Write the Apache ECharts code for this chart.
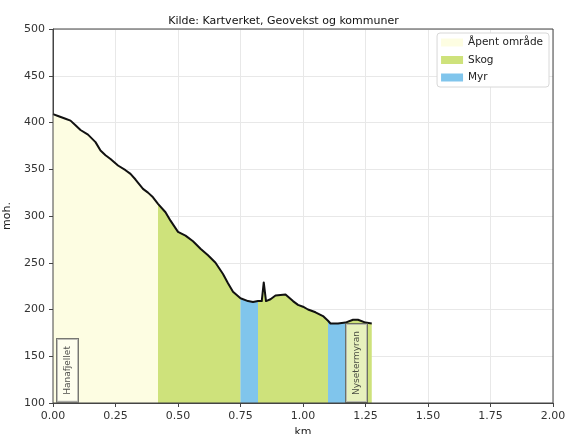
<!DOCTYPE html>
<html>
<head>
<meta charset="utf-8">
<script src="https://cdn.jsdelivr.net/npm/echarts@6/dist/echarts.min.js"></script>
<style>
html,body{margin:0;padding:0;background:#fff;}
#chart{width:567px;height:434px;}
</style>
</head>
<body>
<div id="chart"></div>
<script>
// Elevation profile (km, metres above sea level)
var profileKm = [0.00,0.02,0.05,0.07,0.09,0.11,0.14,0.17,0.19,0.21,0.23,0.26,0.29,0.31,0.33,0.36,0.38,0.40,0.42,0.45,0.47,0.50,0.53,0.56,0.59,0.62,0.65,0.68,0.70,0.72,0.75,0.78,0.80,0.82,0.835,0.843,0.852,0.87,0.89,0.93,0.96,0.98,1.00,1.02,1.05,1.08,1.10,1.11,1.14,1.17,1.20,1.22,1.25,1.275];
var profileElev = [409,407,404,402,397,392,387,379,370,365,361,354,349,345,339,329,325,320,313,304,295,283,279,273,265,258,250,238,228,219,212,209,208,209,209,229,209,211,215,216,209,205,203,200,197,193,188,185,185,186,189,189,186,185];

// Land-cover segments along the profile
var segStart = [0.00, 0.42, 0.75, 0.82, 1.10, 1.17];
var segEnd   = [0.42, 0.75, 0.82, 1.10, 1.17, 1.275];
var segType  = ['Åpent område','Skog','Myr','Skog','Myr','Skog'];

var coverTypes  = ['Åpent område','Skog','Myr'];
var coverColors = ['#fdfde2','#cee27b','#80c5ec'];

// Place-name annotations
var placeNames = ['Hanafjellet','Nysetermyran'];
var placeKm    = [0.058, 1.214];
var placeElev  = [134.8, 142.8];

var xTicks = {min:0, max:2, interval:0.25};
var yTicks = {min:100, max:500, interval:50};

var chart = echarts.init(document.getElementById('chart'), null, {renderer:'canvas'});

var series = [];
for (var s = 0; s < segType.length; s++) {
  var pts = [];
  for (var i = 0; i < profileKm.length; i++) {
    if (profileKm[i] >= segStart[s] - 1e-9 && profileKm[i] <= segEnd[s] + 1e-9) {
      pts.push([profileKm[i], profileElev[i]]);
    }
  }
  var c = coverColors[coverTypes.indexOf(segType[s])];
  series.push({
    type:'line', name:segType[s], data:pts, showSymbol:false, symbol:'none',
    silent:true, animation:false,
    itemStyle:{color:c},
    lineStyle:{width:0, color:c},
    areaStyle:{color:c, opacity:1, origin:'start'},
    z:1
  });
}
var line = [];
for (var j = 0; j < profileKm.length; j++) line.push([profileKm[j], profileElev[j]]);
series.push({
  type:'line', name:'profil', data:line, showSymbol:false, symbol:'none',
  animation:false, lineStyle:{color:'#111', width:2, join:'round'}, z:5
});
var places = [];
for (var k = 0; k < placeNames.length; k++) places.push({name:placeNames[k], value:[placeKm[k], placeElev[k]]});
series.push({
  type:'scatter', name:'steder', data:places, symbolSize:0, animation:false, z:6,
  label:{
    show:true, position:'inside', rotate:90,
    formatter:function(p){return p.name;},
    fontFamily:'DejaVu Sans', fontSize:9, color:'#222',
    backgroundColor:'rgba(255,255,250,0.65)', borderColor:'#555', borderWidth:1,
    padding:[6,7]
  }
});

chart.setOption({
  animation:false,
  backgroundColor:'#fff',
  textStyle:{fontFamily:'DejaVu Sans'},
  title:{
    text:'Kilde: Kartverket, Geovekst og kommuner', left:'center', top:11,
    textStyle:{fontSize:11, fontWeight:'normal', color:'#111', fontFamily:'DejaVu Sans'}
  },
  legend:{
    data:coverTypes, orient:'vertical', right:18, top:33,
    icon:'rect', itemWidth:22, itemHeight:8, itemGap:6.5,
    backgroundColor:'#fff', borderColor:'#d8d8d8', borderWidth:1, borderRadius:3,
    padding:[4,6,4,4],
    textStyle:{fontSize:10.5, color:'#222', fontFamily:'DejaVu Sans'},
    selectedMode:false
  },
  grid:{left:53, right:14, top:29, bottom:31, outerBoundsMode:'none', containLabel:false,
        show:true, borderColor:'#444', borderWidth:1, z:10},
  xAxis:{
    type:'value', min:xTicks.min, max:xTicks.max, interval:xTicks.interval,
    name:'km', nameLocation:'middle', nameGap:20,
    nameTextStyle:{fontSize:11, color:'#222'},
    axisLine:{show:true, onZero:false, lineStyle:{color:'#444'}},
    axisTick:{show:true, length:4, lineStyle:{color:'#444'}},
    axisLabel:{fontSize:11, color:'#333', margin:8, formatter:function(v){return v.toFixed(2);}},
    splitLine:{show:true, lineStyle:{color:'#e8e8e8'}}
  },
  yAxis:{
    type:'value', min:yTicks.min, max:yTicks.max, interval:yTicks.interval,
    name:'moh.', nameLocation:'middle', nameGap:35,
    nameTextStyle:{fontSize:11, color:'#222'},
    axisLine:{show:true, onZero:false, lineStyle:{color:'#444'}},
    axisTick:{show:true, length:4, lineStyle:{color:'#444'}},
    axisLabel:{fontSize:11, color:'#333', margin:8},
    splitLine:{show:true, lineStyle:{color:'#e8e8e8'}}
  },
  series:series
});
</script>
</body>
</html>
